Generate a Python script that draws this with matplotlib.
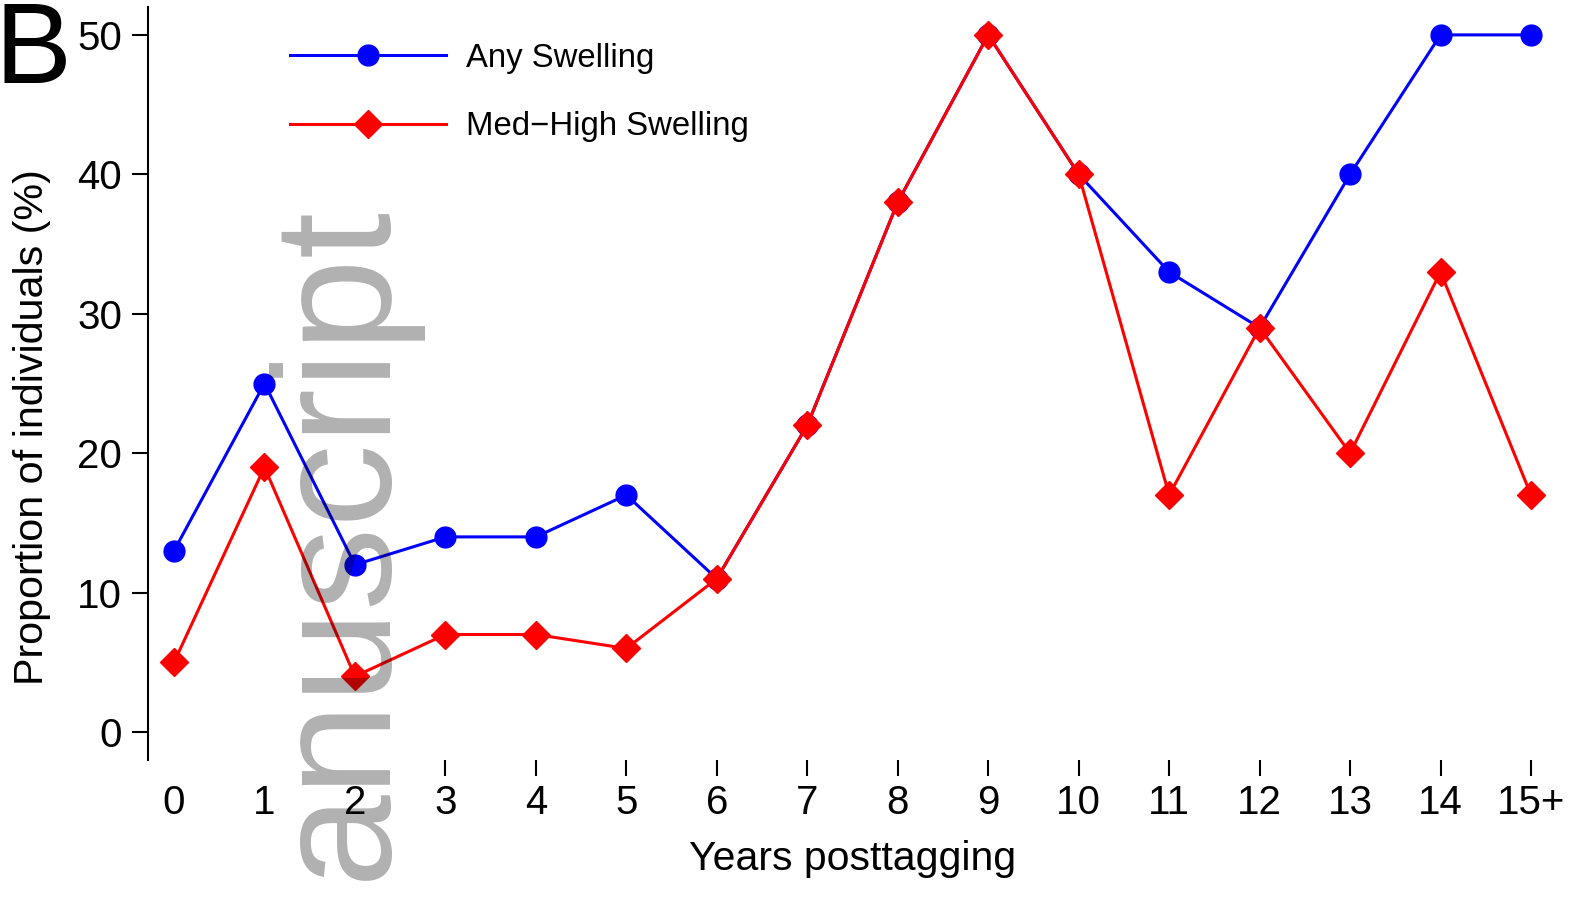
import matplotlib
matplotlib.use("Agg")
import matplotlib.pyplot as plt
import numpy as np

plt.rcParams['font.family'] = ['Liberation Sans', 'DejaVu Sans']

years = list(range(16))
year_labels = ['0', '1', '2', '3', '4', '5', '6', '7', '8', '9', '10', '11', '12', '13', '14', '15+']
any_swelling = [13, 25, 12, 14, 14, 17, 11, 22, 38, 50, 40, 33, 29, 40, 50, 50]
med_high_swelling = [5, 19, 4, 7, 7, 6, 11, 22, 38, 50, 40, 17, 29, 20, 33, 17]
y_ticks = [0, 10, 20, 30, 40, 50]

W, H = 1575, 899
fig = plt.figure(figsize=(W / 100, H / 100), dpi=100)
ax = fig.add_axes([148 / W, (H - 760) / H, (W - 148) / W, 753 / H])

ax.plot(years, any_swelling, color='#0000ff', lw=2.2, marker='o', ms=15,
        label='Any Swelling')
ax.plot(years, med_high_swelling, color='#ff0000', lw=2.2, marker='D', ms=14.5,
        label='Med\u2212High Swelling')

ax.set_xlim(-26 / 90.5, 15 + 44 / 90.5)
ax.set_ylim(-2, 52)

for s in ['top', 'right', 'bottom']:
    ax.spines[s].set_visible(False)
ax.spines['left'].set_linewidth(1.5)

ax.set_xticks(years, year_labels)
ax.set_yticks(y_ticks)
ax.tick_params(axis='both', direction='out', length=11.5, width=1.5,
               labelsize=29, pad=7)
ax.tick_params(axis='x', pad=5.5)
# no tick marks under the first three years
for t in ax.xaxis.get_major_ticks()[:3]:
    t.tick1line.set_visible(False)

ax.set_xlabel('Years posttagging', fontsize=29.5, labelpad=13)
ax.xaxis.label.set_x(0.494)
ax.set_ylabel('Proportion of individuals (%)', fontsize=29.7, labelpad=19)
ax.yaxis.label.set_y(0.442)

ax.legend(loc='upper left', bbox_to_anchor=(290 / W, 1 - 43 / H),
          bbox_transform=fig.transFigure, frameon=False, fontsize=23.7,
          handlelength=4.75, handletextpad=0.6, labelspacing=1.13,
          borderpad=0, borderaxespad=0)

fig.text(-5 / W, 1 - 0 / H, 'B', fontsize=83, ha='left', va='top')

# watermark on top of everything
fig.text(384 / W, 19 / H, 'anuscript', fontsize=120, rotation=90,
         rotation_mode='anchor', ha='left', va='baseline',
         color='black', alpha=0.31, zorder=10)

fig.savefig('out.png', dpi=100)
